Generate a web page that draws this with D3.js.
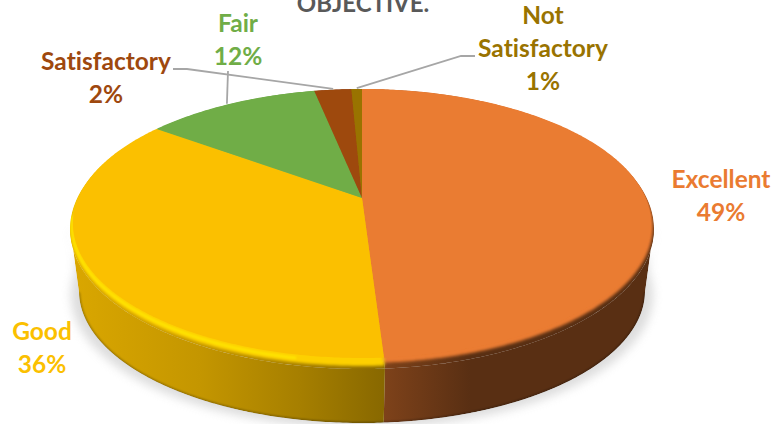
<!DOCTYPE html>
<html>
<head>
<meta charset="utf-8">
<script src="https://cdnjs.cloudflare.com/ajax/libs/d3/7.8.5/d3.min.js"></script>
<style>
  html, body { margin: 0; padding: 0; background: #fff; overflow: hidden; }
  text { font-family: Lato, "Open Sans", sans-serif; font-weight: 700; text-anchor: middle; font-variant-ligatures: none; }
</style>
</head>
<body>
<div id="chart"></div>
<script>
var categories = ["Excellent", "Good", "Fair", "Satisfactory", "Not Satisfactory"];
var values = [49, 36.1, 11.7, 2.49, 0.71];
var colors = ["#ea7b31", "#fbc000", "#70ad47", "#9e480e", "#997300"];
var title = "OBJECTIVE.";

// label placement, one row per category: centre x, first baseline, row gap
var labelX = [721, 42, 238, 106, 543];
var labelY = [188, 340, 32, 70, 24];
var labelRows = [["Excellent"], ["Good"], ["Fair"], ["Satisfactory"], ["Not", "Satisfactory"]];

var width = 777, height = 424;
var svg = d3.select("#chart").append("svg")
  .attr("width", width)
  .attr("height", height)
  .style("display", "block");

// circle seen in perspective: angle 0 is the top, clockwise
function disc(cx, cy, up, down, halfWidth) {
  var k = (down - up) / (down + up);
  var b = up * (1 + k);
  var a = halfWidth * Math.sqrt(1 - k * k);
  return function(angle, r) {
    var w = 1 + k * r * Math.cos(angle);
    return [cx + a * r * Math.sin(angle) / w, cy - b * r * Math.cos(angle) / w];
  };
}

var face = disc(362, 198, 109, 160, 289);
var soft = disc(362, 198, 109, 165, 291);
var rim = disc(362, 198, 109, 171, 292);
var base = disc(362, 265, 106, 158, 283);

var line = d3.line();
var pie = d3.pie().sort(null).value(function(d) { return d; });
var slices = pie(values);

function arcPoints(proj, a0, a1) {
  var n = Math.max(2, Math.ceil((a1 - a0) / 0.01));
  return d3.range(n + 1).map(function(i) { return proj(a0 + (a1 - a0) * i / n, 1); });
}
function sector(proj, d) {
  return line([proj(0, 0)].concat(arcPoints(proj, d.startAngle, d.endAngle))) + "Z";
}

// only the front of the wall shows, between the two points where the outline is tangent
var tangentA = 102 * Math.PI / 180, tangentB = 2 * Math.PI - tangentA;
function wall(d) {
  var a0 = Math.max(d.startAngle, tangentA), a1 = Math.min(d.endAngle, tangentB);
  if (a1 <= a0) return null;
  return line(arcPoints(rim, a0, a1).concat(arcPoints(base, a0, a1).reverse())) + "Z";
}

var defs = svg.append("defs");
[["blur05", 0.5], ["blur1", 1], ["blur15", 1.6], ["blur5", 5]].forEach(function(f) {
  defs.append("filter").attr("id", f[0])
    .attr("x", "-10%").attr("y", "-10%").attr("width", "120%").attr("height", "120%")
    .append("feGaussianBlur").attr("stdDeviation", f[1]);
});

// the clip is the union of top disc, foot disc and the front wall
var frontWall = wall({ startAngle: 0, endAngle: 2 * Math.PI });
var hull = defs.append("clipPath").attr("id", "hull");
hull.append("path").attr("d", line(arcPoints(rim, 0, 2 * Math.PI)) + "Z");
hull.append("path").attr("d", line(arcPoints(base, 0, 2 * Math.PI)) + "Z");
hull.append("path").attr("d", frontWall);

// wall shading runs left to right across the whole pie
var shadeX = [70, 200, 300, 384, 470, 654];
var shadeK = [0.87, 0.78, 0.66, 0.54, 0.38, 0.38];
var xPos = d3.scaleLinear().domain([70, 654]).range([0, 1]);

slices.forEach(function(d, i) {
  var g = defs.append("linearGradient").attr("id", "wall" + i)
    .attr("gradientUnits", "userSpaceOnUse")
    .attr("x1", 70).attr("x2", 654).attr("y1", 0).attr("y2", 0);
  shadeX.forEach(function(x, j) {
    var c = d3.rgb(colors[i]);
    g.append("stop")
      .attr("offset", xPos(x))
      .attr("stop-color", d3.rgb(c.r * shadeK[j], c.g * shadeK[j], c.b * shadeK[j]).formatHex());
  });
});

// drop shadow under the pie
var shadow = svg.append("g")
  .attr("fill", "#b4b4b4")
  .attr("opacity", 0.45)
  .attr("filter", "url(#blur5)");
shadow.append("path").attr("d", line(arcPoints(disc(362, 268, 106, 160, 291), 0, 2 * Math.PI)) + "Z");
shadow.append("path").attr("d", frontWall);

var body = svg.append("g").attr("clip-path", "url(#hull)");

body.selectAll(".under").data(slices).enter().append("path")
  .attr("class", "under")
  .attr("d", function(d) { return sector(rim, d); })
  .attr("fill", function(d, i) { return "url(#wall" + i + ")"; });

body.selectAll(".wall").data(slices).enter().append("path")
  .attr("class", "wall")
  .attr("d", wall)
  .attr("fill", function(d, i) { return "url(#wall" + i + ")"; });

// dark line along the foot of the wall
body.append("path")
  .attr("d", line(arcPoints(base, tangentA, tangentB)))
  .attr("fill", "none")
  .attr("stroke", "#000")
  .attr("stroke-opacity", 0.35)
  .attr("stroke-width", 2)
  .attr("filter", "url(#blur1)");

// soft bevel between wall and face
var bevel = body.append("g").attr("filter", "url(#blur15)");
bevel.selectAll("path").data(slices).enter().append("path")
  .attr("d", function(d, i) { return sector(i == 1 ? disc(362, 198, 109, 168, 291.5) : soft, d); })
  .attr("fill", function(d, i) { return i == 1 ? "#fdd000" : colors[i]; });

// yellow highlight on the front of the Good slice
body.append("path")
  .attr("d", line(arcPoints(disc(362, 198, 109, 163.5, 290.5), slices[1].startAngle + 0.25, slices[1].startAngle + 1.5)))
  .attr("fill", "none")
  .attr("stroke", "#ffec00")
  .attr("stroke-opacity", 0.8)
  .attr("stroke-width", 2.5)
  .attr("filter", "url(#blur1)");

var top_ = svg.append("g").attr("filter", "url(#blur05)");
top_.selectAll("path").data(slices).enter().append("path")
  .attr("d", function(d) { return sector(face, d); })
  .attr("fill", function(d, i) { return colors[i]; });

// leader lines, from a point along the slice out to the label
var leaders = [
  { slice: 2, along: 0.47, via: [[228, 71]] },
  { slice: 3, along: 0.5, via: [[173, 69], [187, 69]] },
  { slice: 4, along: 0.5, via: [[475, 56], [461, 56]] }
];
leaders.forEach(function(l) {
  var d = slices[l.slice];
  var end = rim(d.startAngle + (d.endAngle - d.startAngle) * l.along, 1.01);
  svg.append("path")
    .attr("d", line(l.via.concat([end])))
    .attr("fill", "none")
    .attr("stroke", "#a6a6a6")
    .attr("stroke-width", 1.8);
});

svg.append("text")
  .attr("x", 363)
  .attr("y", 12)
  .attr("font-size", 24)
  .attr("fill", "#595959")
  .text(title);

// data labels
var rowGap = 33;
slices.forEach(function(d, i) {
  var t = svg.append("text")
    .attr("font-size", 24.5)
    .attr("fill", colors[i]);
  labelRows[i].concat([Math.round(d.value) + "%"]).forEach(function(row, j) {
    t.append("tspan")
      .attr("x", labelX[i])
      .attr("y", labelY[i] + j * rowGap)
      .text(row);
  });
});
</script>
</body>
</html>
